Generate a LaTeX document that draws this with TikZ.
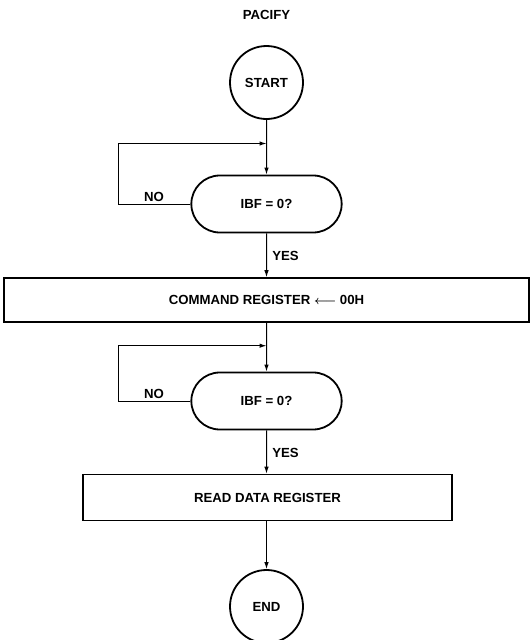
\documentclass[tikz,border=0pt]{standalone}
\usepackage{bm}
\usepackage{fontspec}
\setmainfont{Liberation Sans}
\usetikzlibrary{arrows.meta,shapes.misc}

\begin{document}
\begin{tikzpicture}[x=1pt,y=-1pt,>={Latex[length=7pt,width=4.5pt]},
  font=\fontsize{13.2}{15}\selectfont\bfseries,
  term/.style={draw,circle,line width=1.8pt,minimum size=73pt,inner sep=0pt},
  test/.style={draw,rounded rectangle,line width=1.8pt,minimum width=157pt,minimum height=57pt},
  proc/.style={draw,rectangle,line width=1.6pt},
  flow/.style={line width=1pt}]
\useasboundingbox (0,0) rectangle (531,640);
% boxes
\node (title) at(266.5,15){PACIFY};
\node[term] (start) at(266.5,82.5){START};
\node[test] (ibfA) at(266.5,204){IBF = 0?};
\node[proc,minimum width=525pt,minimum height=44pt] (cmd) at(266.5,300){COMMAND REGISTER $\bm{\longleftarrow}$ 00H};
\node[test] (ibfB) at(266.5,401){IBF = 0?};
\node[proc,minimum width=369pt,minimum height=46pt] (read) at(267.5,497.5){READ DATA REGISTER};
\node[term] (end) at(266.5,606.5){END};
\coordinate (backA) at(118,143.5);
\coordinate (backB) at(118,345.7);
% flow
\draw[flow,->] (start) -- (ibfA);
\draw[flow,->] (ibfA.west) -- (ibfA.west -| backA) -- (backA) -- (backA -| ibfA.north);
\node (noA) at(154,196.5){NO};
\draw[flow,->] (ibfA) -- (cmd);
\node (yesA) at(285.5,256){YES};
\draw[flow,->] (cmd) -- (ibfB);
\draw[flow,->] (ibfB.west) -- (ibfB.west -| backB) -- (backB) -- (backB -| ibfB.north);
\node (noB) at(154,394){NO};
\draw[flow,->] (ibfB) -- (read.north -| ibfB);
\node (yesB) at(285.5,453){YES};
\draw[flow,->] (read.south -| end) -- (end);
\end{tikzpicture}
\end{document}
